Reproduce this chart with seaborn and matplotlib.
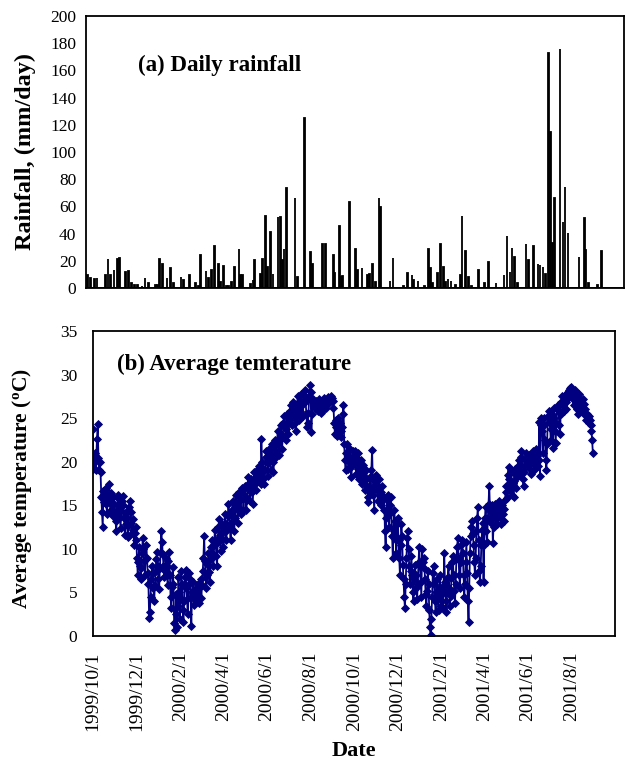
import numpy as np
import pandas as pd
import matplotlib
matplotlib.use("Agg")
import matplotlib.pyplot as plt
import matplotlib.dates as mdates
import seaborn as sns

# ---------------- data ----------------
# daily rainfall: day number counted from 1999/10/1, and amount (mm/day)
rain_day = [2, 6, 12, 15, 26, 30, 33, 38, 43, 46,
            54, 58, 62, 66, 70, 76, 80, 85, 94, 97,
            100, 104, 110, 115, 119, 129, 132, 141, 149, 153,
            156, 163, 166, 171, 175, 180, 183, 187, 191, 194,
            198, 202, 208, 210, 213, 224, 227, 229, 237, 240,
            244, 247, 251, 254, 261, 264, 267, 269, 272, 284,
            287, 297, 305, 308, 321, 325, 336, 338, 344, 347,
            349, 358, 366, 369, 375, 382, 385, 389, 393, 398,
            400, 413, 417, 431, 437, 443, 445, 451, 460, 465,
            468, 471, 478, 482, 486, 488, 492, 496, 502, 509,
            511, 516, 520, 524, 533, 541, 547, 557, 568, 572,
            576, 579, 582, 586, 598, 601, 608, 614, 617, 621,
            624, 628, 631, 634, 637, 644, 648, 651, 655, 670,
            677, 679, 683, 695, 700]
rain_mm = [9.6, 7, 6.4, 7, 9.6, 21.3, 9.6, 13, 21, 22.3,
           11.5, 12.3, 4, 2.5, 2.5, 1.5, 7, 3.4, 2, 2.5,
           21.3, 17.4, 7, 14.5, 4, 8.3, 5.9, 9.3, 3.4, 1.7,
           24.3, 12.3, 7, 13.2, 31.1, 17.4, 4.2, 16.2, 1.5, 1.5,
           4.2, 15.4, 28.4, 9.6, 9.6, 3, 5.9, 20.6, 10.3, 21.3,
           53.2, 15.2, 41.4, 10.3, 52.5, 52.5, 20.6, 28.4, 73.3, 66.4,
           8.3, 125, 26.2, 17.4, 32.1, 32.1, 24.3, 11.3, 45.3, 8.3,
           9, 63, 28.4, 13.2, 14.5, 9.6, 10.3, 17.4, 4.2, 66.4,
           59.8, 5.1, 22.3, 1.5, 11.3, 9.3, 5.9, 5.1, 1.5, 28.4,
           14.5, 3.4, 11.3, 32.1, 15.2, 4.7, 6.4, 5.4, 2.2, 9.6,
           53.2, 27.5, 8.3, 1.5, 13.2, 3.4, 19.4, 3.4, 9.6, 38.2,
           12, 29.2, 23, 3.4, 32.1, 20.6, 31.1, 17.4, 16.9, 15.2,
           10.3, 172.5, 114.5, 33.3, 66.4, 175.7, 48.5, 74.3, 40.2, 23,
           51.2, 28, 3.9, 2.2, 27.5]

# daily average temperature (deg C), one list per month
t_1999_10 = [23.8, 19.2, 19.8, 21.0, 19.0, 20.5, 22.6, 24.3, 20.4, 19.1, 20.0, 18.8, 16.0, 14.2, 12.5, 16.6,
             15.4, 16.8, 17.0, 15.2, 14.0, 16.5, 16.1, 17.4, 15.6, 14.5, 16.4, 15.0, 13.8, 16.0, 15.2]
t_1999_11 = [14.0, 13.2, 12.0, 14.5, 15.8, 16.2, 15.0, 13.6, 12.4, 14.4, 15.5, 16.1, 15.0, 13.5, 11.6, 12.8,
             14.2, 13.5, 11.4, 12.6, 14.8, 15.5, 14.2, 13.0, 11.8, 13.4, 12.2, 10.5, 11.8, 12.5]
t_1999_12 = [11.0, 9.0, 7.0, 8.5, 10.2, 8.0, 6.5, 7.8, 9.5, 11.2, 10.0, 8.6, 7.0, 8.8, 10.5, 9.0, 7.2, 6.0,
             2.1, 2.8, 4.5, 6.5, 8.0, 7.2, 5.5, 4.0, 5.8, 7.5, 8.8, 9.6, 8.0]
t_2000_01 = [6.5, 5.4, 7.8, 9.5, 12.0, 10.8, 9.4, 8.0, 6.8, 7.5, 9.0, 8.2, 7.0, 5.8, 8.6, 9.6, 7.0, 4.5, 3.2,
             5.6, 7.9, 6.0, 1.5, 0.7, 2.5, 4.8, 1.0, 3.5, 6.8, 5.0, 2.0]
t_2000_02 = [4.2, 7.5, 6.0, 3.0, 1.6, 4.0, 6.8, 7.6, 5.5, 4.2, 2.5, 5.8, 7.2, 6.5, 4.5, 1.2, 5.0, 6.2, 4.8,
             3.6, 4.4, 5.5, 4.0, 5.2, 6.0, 4.5, 3.8, 5.6, 6.5]
t_2000_03 = [4.4, 5.8, 7.5, 9.0, 11.5, 8.6, 6.8, 5.5, 7.0, 8.2, 9.5, 7.4, 6.2, 8.8, 10.2, 11.0, 9.4, 8.0,
             10.5, 12.2, 11.0, 9.2, 8.0, 10.8, 12.5, 13.4, 11.6, 9.8, 11.2, 12.8, 12.0]
t_2000_04 = [10.2, 12.5, 14.0, 12.8, 11.0, 12.2, 13.8, 15.2, 14.0, 12.5, 11.0, 13.0, 14.5, 15.5, 13.8, 12.0,
             13.5, 15.0, 16.2, 14.6, 13.0, 14.8, 16.5, 15.6, 14.0, 15.8, 17.0, 16.2, 14.5, 15.8]
t_2000_05 = [17.2, 16.0, 14.5, 15.6, 17.5, 18.2, 16.8, 15.5, 17.0, 18.0, 16.5, 15.2, 17.6, 18.8, 17.5, 16.8,
             18.2, 19.0, 17.8, 18.5, 19.5, 18.6, 17.5, 22.6, 20.0, 19.2, 18.0, 17.4, 19.0, 20.5, 21.2]
t_2000_06 = [20.0, 18.4, 19.8, 21.5, 20.2, 19.0, 21.5, 22.0, 20.0, 18.8, 20.6, 22.5, 21.2, 20.5, 22.4, 23.5,
             22.0, 20.8, 22.6, 24.2, 23.2, 21.5, 22.8, 24.5, 25.2, 24.0, 22.5, 23.8, 25.5, 24.6]
t_2000_07 = [23.2, 24.8, 25.8, 26.5, 25.0, 24.2, 25.6, 26.8, 26.0, 24.5, 23.5, 25.4, 26.6, 27.5, 26.2, 24.8,
             25.8, 27.0, 27.8, 26.5, 25.2, 26.8, 27.6, 28.2, 27.0, 25.5, 24.0, 24.5, 25.6, 27.5, 28.8]
t_2000_08 = [28.0, 23.4, 25.5, 26.8, 27.2, 26.5, 26.2, 27.0, 26.8, 26.0, 25.8, 26.4, 27.2, 26.8, 26.0, 25.6,
             25.8, 26.2, 26.8, 27.3, 27.0, 26.5, 26.2, 26.6, 27.2, 27.4, 27.0, 26.8, 27.2, 27.5, 27.3]
t_2000_09 = [27.0, 26.2, 24.5, 23.2, 24.8, 24.0, 23.0, 24.2, 25.0, 23.8, 24.4, 22.8, 23.5, 24.0, 25.5, 26.5,
             22.0, 20.2, 19.0, 21.0, 22.0, 20.2, 19.2, 20.6, 21.5, 19.8, 18.2, 19.5, 21.2, 20.0]
t_2000_10 = [20.5, 21.2, 19.8, 18.6, 20.4, 21.0, 19.2, 18.0, 19.5, 20.2, 18.8, 17.5, 18.5, 19.6, 17.8, 16.8,
             18.0, 19.0, 17.2, 16.0, 15.4, 17.0, 18.2, 16.5, 19.0, 21.4, 18.0, 16.2, 14.5, 17.2, 18.5]
t_2000_11 = [17.5, 16.8, 15.5, 17.0, 18.0, 16.2, 15.0, 16.5, 17.2, 15.8, 14.5, 16.0, 12.0, 10.2, 13.5, 15.6,
             16.2, 14.0, 12.5, 15.0, 16.0, 14.2, 11.5, 9.0, 12.0, 14.5, 13.2, 11.0, 9.5, 12.8]
t_2000_12 = [13.5, 11.0, 9.0, 7.0, 10.5, 12.8, 11.5, 8.2, 6.5, 4.5, 3.2, 6.0, 9.0, 11.2, 12.0, 10.0, 8.0,
             6.0, 7.5, 9.2, 7.0, 5.0, 4.0, 6.5, 8.2, 7.0, 5.5, 4.2, 6.0, 8.5, 10.2]
t_2001_01 = [8.0, 6.2, 4.5, 10.0, 8.5, 7.8, 9.0, 6.5, 4.8, 3.5, 5.2, 7.5, 6.0, 3.0, 1.0, 0.1, 2.0, 4.5, 7.2,
             8.0, 6.0, 4.0, 2.8, 5.0, 6.5, 4.2, 3.0, 5.5, 7.0, 5.2, 3.5]
t_2001_02 = [4.8, 3.2, 5.8, 9.5, 6.2, 4.0, 2.8, 5.0, 6.8, 8.0, 5.5, 3.5, 4.6, 6.6, 8.5, 9.2, 7.0, 5.2, 3.8,
             6.0, 8.8, 10.2, 11.2, 9.0, 7.0, 5.5, 8.5, 10.5]
t_2001_03 = [11.0, 9.5, 7.0, 4.5, 6.0, 8.5, 10.8, 7.2, 4.0, 1.6, 5.5, 9.5, 11.5, 12.5, 13.2, 11.8, 10.5, 8.5,
             7.0, 9.0, 12.0, 13.5, 14.8, 11.0, 7.5, 6.2, 8.0, 10.5, 12.2, 13.0, 6.2]
t_2001_04 = [10.5, 13.5, 14.8, 12.0, 10.8, 13.5, 15.2, 17.2, 14.5, 13.0, 14.2, 15.0, 10.7, 12.5, 14.0, 15.2,
             14.6, 13.4, 12.8, 14.4, 15.5, 14.8, 13.6, 12.8, 14.2, 15.0, 14.0, 13.2, 14.6, 15.6]
t_2001_05 = [16.5, 17.2, 15.8, 18.5, 19.4, 18.0, 16.8, 17.5, 18.8, 16.2, 17.6, 16.0, 17.8, 19.2, 18.5, 17.0,
             18.2, 19.5, 20.2, 18.5, 19.2, 20.5, 21.2, 19.5, 18.0, 17.2, 18.8, 20.2, 21.0, 19.5, 20.4]
t_2001_06 = [19.5, 20.0, 20.8, 19.2, 18.6, 19.8, 20.5, 21.2, 20.2, 19.0, 19.8, 20.8, 21.5, 20.6, 19.5, 20.2,
             24.6, 18.4, 25.0, 24.2, 23.5, 21.0, 25.0, 24.2, 22.5, 20.2, 19.0, 22.0, 25.2, 24.6]
t_2001_07 = [25.8, 24.5, 22.5, 23.8, 25.5, 21.6, 26.2, 25.0, 23.5, 22.2, 24.5, 26.0, 26.5, 25.8, 24.2, 23.2,
             25.5, 26.8, 27.5, 26.5, 25.8, 27.0, 27.6, 26.8, 26.0, 27.2, 28.0, 27.5, 28.2, 28.5, 28.0]
t_2001_08 = [28.6, 28.0, 27.2, 26.5, 27.5, 28.2, 27.6, 26.8, 26.0, 25.5, 26.4, 27.8, 27.2, 26.2, 25.8, 26.5,
             27.2, 26.6, 25.5, 26.0, 25.4, 24.8, 25.5, 25.0, 24.5, 25.2, 24.8, 24.2, 23.5, 22.5, 21.0]

temp_months = ["1999-10", "1999-11", "1999-12", "2000-01", "2000-02", "2000-03", "2000-04", "2000-05",
               "2000-06", "2000-07", "2000-08", "2000-09", "2000-10", "2000-11", "2000-12", "2001-01",
               "2001-02", "2001-03", "2001-04", "2001-05", "2001-06", "2001-07", "2001-08"]
temp_lists = [t_1999_10, t_1999_11, t_1999_12, t_2000_01, t_2000_02, t_2000_03, t_2000_04, t_2000_05,
              t_2000_06, t_2000_07, t_2000_08, t_2000_09, t_2000_10, t_2000_11, t_2000_12, t_2001_01,
              t_2001_02, t_2001_03, t_2001_04, t_2001_05, t_2001_06, t_2001_07, t_2001_08]

tick_labels = ["1999/10/1", "1999/12/1", "2000/2/1", "2000/4/1", "2000/6/1", "2000/8/1",
               "2000/10/1", "2000/12/1", "2001/2/1", "2001/4/1", "2001/6/1", "2001/8/1"]
rain_yticks = [0, 20, 40, 60, 80, 100, 120, 140, 160, 180, 200]
temp_yticks = [0, 5, 10, 15, 20, 25, 30, 35]
period_start = "1999-10-01"
period_end = "2001-10-01"

# ---------------- frames ----------------
t0 = pd.Timestamp(period_start)
t1 = pd.Timestamp(period_end)
n = min(len(rain_day), len(rain_mm))
rain_df = pd.DataFrame({
    "date": [t0 + pd.Timedelta(days=d) for d in rain_day[:n]],
    "rain": rain_mm[:n],
})
rain_df["xnum"] = mdates.date2num(rain_df["date"])

frames = []
for m, vals in zip(temp_months, temp_lists):
    frames.append(pd.DataFrame({"date": pd.date_range(m + "-01", periods=len(vals), freq="D"),
                                "temp": vals}))
temp_df = pd.concat(frames, ignore_index=True)

# ---------------- style ----------------
sns.set_theme(style="white")
plt.rcParams["font.family"] = ["Liberation Serif", "DejaVu Serif"]
plt.rcParams["mathtext.fontset"] = "custom"
plt.rcParams["mathtext.rm"] = "Liberation Serif"
plt.rcParams["mathtext.bf"] = "Liberation Serif:bold"
for key in ("text.color", "axes.labelcolor", "xtick.color", "ytick.color", "axes.edgecolor"):
    plt.rcParams[key] = "black"

W, H = 626, 763
fig = plt.figure(figsize=(W / 100, H / 100), dpi=100)
ax1 = fig.add_axes([86 / W, 1 - 288 / H, 538 / W, 272 / H])
ax2 = fig.add_axes([92.7 / W, 1 - 636 / H, 522.3 / W, 305 / H])

x0num = mdates.date2num(t0)
x1num = mdates.date2num(t1)

# --- (a) rainfall bars ---
sns.histplot(data=rain_df, x="xnum", weights="rain", binwidth=1,
             binrange=(x0num - 0.5, x1num + 0.5), color="black", edgecolor="black",
             linewidth=1.3, alpha=1, ax=ax1)
ax1.set_xlim(x0num, x1num)
ax1.set_ylim(0, 200)
ax1.set_yticks(rain_yticks)
ax1.set_xticks([])
ax1.set_xlabel("")
ax1.set_ylabel("Rainfall, (mm/day)", fontsize=17.5, fontweight="bold")
ax1.yaxis.set_label_coords((36 - 86) / 538, 0.5)
ax1.text((138 - 86) / 538, (288 - 71) / 272, "(a) Daily rainfall", transform=ax1.transAxes,
         fontsize=16.5, fontweight="bold", ha="left", va="baseline")
ax1.tick_params(axis="y", direction="in", length=6, width=1, labelsize=12.5, pad=7)

# --- (b) temperature line ---
sns.lineplot(data=temp_df, x="date", y="temp", ax=ax2, color="#000080", linewidth=1.3,
             marker="D", markersize=3.8, markeredgecolor="#000080", markeredgewidth=0.6)
ax2.set_xlim(t0, t1)
ax2.set_ylim(0, 35)
ax2.set_yticks(temp_yticks)
tick_pos = pd.to_datetime(tick_labels, format="%Y/%m/%d")
ax2.set_xticks(tick_pos)
ax2.set_xticklabels(tick_labels, rotation=90, fontsize=14)
ax2.set_xlabel("Date", fontsize=16, fontweight="bold")
ax2.xaxis.set_label_coords(0.5, -0.345)
ax2.set_ylabel("Average temperature ($\\mathbf{^{o}}$C)", fontsize=15.5, fontweight="bold")
ax2.yaxis.set_label_coords((34 - 92.7) / 522.3, 0.485)
ax2.text((117.3 - 92.7) / 522.3, (636 - 370) / 305, "(b) Average temterature",
         transform=ax2.transAxes, fontsize=16.5, fontweight="bold", ha="left", va="baseline")
ax2.tick_params(axis="y", direction="in", length=6, width=1, labelsize=12.5, pad=11)
ax2.tick_params(axis="x", direction="in", length=5, width=1, pad=11)

for ax in (ax1, ax2):
    for s in ax.spines.values():
        s.set_visible(True)
        s.set_color("black")
        s.set_linewidth(1.3)
    ax.grid(False)

fig.savefig("out.png", dpi=100)
